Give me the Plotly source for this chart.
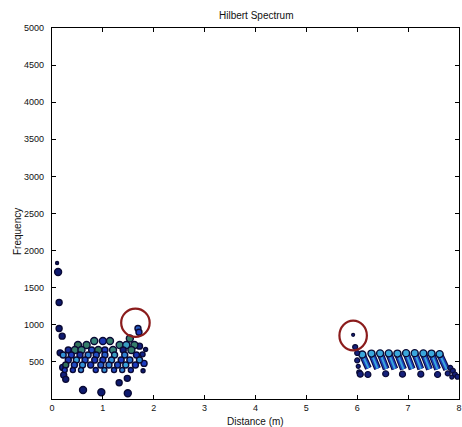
import plotly.graph_objects as go

# ---------------- data ----------------
# Cluster near 0-2 m : distance, frequency, relative amplitude
c1_x = [0.10, 0.12, 0.14, 0.14, 0.20, 0.16, 0.21, 0.23, 0.27, 0.61, 0.97, 1.49, 1.32, 1.48,
        1.69, 1.71, 1.53, 1.72, 1.84, 1.78, 1.81, 1.79,
        0.83, 1.00, 1.14,
        0.51, 0.68, 1.33, 1.46, 1.62,
        0.32, 0.45, 0.58, 0.78, 0.91, 1.04, 1.20, 1.40, 1.56,
        0.22, 0.38, 0.55, 0.71, 0.87, 1.04, 1.23, 1.43, 1.66,
        0.32, 0.48, 0.65, 0.84, 1.00, 1.17, 1.36, 1.53, 1.72,
        0.27, 0.44, 0.60, 0.76, 0.96, 1.12, 1.29, 1.45, 1.64,
        0.25, 0.41, 0.57, 0.86, 1.03, 1.22, 1.38, 1.55]
c1_y = [1832, 1711, 1300, 950, 847, 622, 426, 322, 265, 121, 90, 77, 219, 278,
        950, 900, 816, 712, 668, 602, 480, 380,
        782, 782, 782,
        728, 728, 728, 728, 728,
        660, 660, 660, 660, 660, 660, 660, 660, 660,
        593, 593, 593, 593, 593, 593, 593, 593, 593,
        526, 526, 526, 526, 526, 526, 526, 526, 526,
        458, 458, 458, 458, 458, 458, 458, 458, 458,
        391, 391, 391, 391, 391, 391, 391, 391]
c1_a = [0.05, 0.05, 0.05, 0.05, 0.05, 0.05, 0.15, 0.10, 0.05, 0.05, 0.05, 0.05, 0.05, 0.05,
        0.45, 0.35, 0.90, 0.10, 0.05, 0.15, 0.35, 0.05,
        0.85, 0.30, 0.90,
        0.95, 0.90, 0.85, 0.70, 0.90,
        0.20, 0.90, 0.85, 0.40, 0.95, 0.35, 0.85, 0.10, 0.90,
        0.60, 0.35, 0.25, 0.55, 0.40, 0.45, 0.70, 0.55, 0.30,
        0.30, 0.65, 0.40, 0.30, 0.35, 0.60, 0.35, 0.50, 0.60,
        0.95, 0.40, 0.60, 0.35, 0.45, 0.55, 0.40, 0.65, 0.35,
        0.35, 0.30, 0.55, 0.35, 0.60, 0.40, 0.55, 0.30]
c1_s = [3, 7, 6, 6, 6, 6, 6, 6, 6, 7, 7, 7, 6, 6,
        6, 6, 7, 6, 4, 5, 6, 4,
        7, 7, 7,
        7, 7, 7, 7, 7,
        6, 7, 7, 6, 7, 6, 7, 6, 7,
        6, 6, 6, 6, 6, 6, 6, 6, 6,
        6, 6, 6, 6, 6, 6, 6, 6, 6,
        6, 6, 6, 6, 6, 6, 6, 6, 6,
        5, 5, 5, 5, 5, 5, 5, 5]

# Cluster near 6-8 m : slanted ridges (top and bottom end of each ridge)
ridge_top_x = [6.10, 6.28, 6.45, 6.62, 6.79, 6.96, 7.13, 7.30, 7.46, 7.62]
ridge_top_y = [600, 612, 615, 615, 612, 618, 618, 615, 612, 605]
ridge_bot_x = [6.22, 6.40, 6.57, 6.74, 6.91, 7.08, 7.25, 7.42, 7.58, 7.76]
ridge_bot_y = [415, 410, 405, 405, 402, 405, 405, 402, 400, 398]

# Scattered points around the 6-8 m cluster
c2_x = [5.92, 5.96, 6.00, 6.00, 6.02, 6.04, 6.06, 6.21, 6.56, 6.89, 7.25, 7.58, 7.78, 7.83, 7.88, 7.92, 7.97, 7.86]
c2_y = [865, 700, 620, 520, 440, 360, 335, 330, 340, 335, 335, 330, 345, 420, 380, 330, 300, 296]
c2_s = [3, 5, 5, 5, 4, 5, 6, 6, 6, 6, 6, 6, 5, 5, 5, 5, 5, 4]

# Highlighted regions (centre x, centre y, half width, half height)
circ_cx = [1.64, 5.92]
circ_cy = [1028, 856]
circ_rx = [0.28, 0.27]
circ_ry = [190, 200]

y_ticks = [500, 1000, 1500, 2000, 2500, 3000, 3500, 4000, 4500, 5000]
x_ticks = [0, 1, 2, 3, 4, 5, 6, 7, 8]

# ---------------- figure ----------------
cscale = [[0.0, "#0c1462"], [0.35, "#1d3cc0"], [0.65, "#36a2dc"], [0.8, "#3a8f8a"], [1.0, "#2f6a4a"]]
OUT = "#0a0a35"
FONT = "Liberation Sans"

fig = go.Figure()

fig.add_trace(go.Scatter(
    x=c1_x, y=c1_y, mode="markers",
    marker=dict(size=c1_s, color=c1_a, colorscale=cscale, cmin=0, cmax=1, opacity=1,
                line=dict(color=OUT, width=1.4)),
    hoverinfo="skip", showlegend=False))

# ridges: segments built from the arrays
rx, ry = [], []
for xt, yt, xb, yb in zip(ridge_top_x, ridge_top_y, ridge_bot_x, ridge_bot_y):
    rx += [xt, xb, None]
    ry += [yt, yb, None]
for w, c in [(7, OUT), (5, "#1b3db8"), (2, "#3aa7dc")]:
    fig.add_trace(go.Scatter(x=rx, y=ry, mode="lines", line=dict(color=c, width=w),
                             connectgaps=False, hoverinfo="skip", showlegend=False))
fig.add_trace(go.Scatter(
    x=ridge_top_x, y=ridge_top_y, mode="markers",
    marker=dict(size=7, color="#3aa7dc", opacity=1, line=dict(color=OUT, width=1.4)),
    hoverinfo="skip", showlegend=False))
fig.add_trace(go.Scatter(
    x=c2_x, y=c2_y, mode="markers",
    marker=dict(size=c2_s, color="#15207a", opacity=1, line=dict(color=OUT, width=1.2)),
    hoverinfo="skip", showlegend=False))

for cx, cy, rxx, ryy in zip(circ_cx, circ_cy, circ_rx, circ_ry):
    fig.add_shape(type="circle", xref="x", yref="y",
                  x0=cx - rxx, x1=cx + rxx, y0=cy - ryy, y1=cy + ryy,
                  line=dict(color="#8b1c1c", width=2.2))

axis_common = dict(showgrid=False, zeroline=False, showline=True, linecolor="black",
                   linewidth=1.2, mirror="ticks", ticks="inside", ticklen=4,
                   tickcolor="black", tickfont=dict(family=FONT, size=9, color="#111"))
fig.update_xaxes(range=[0, 8.001], tickvals=x_ticks, ticklabeloverflow="allow", **axis_common)
fig.update_yaxes(range=[0, 5000], tickvals=y_ticks, ticklabelstandoff=5, **axis_common)

fig.add_annotation(text="Hilbert Spectrum", xref="paper", yref="paper", x=0.5, y=1.0,
                   yshift=5, xanchor="center", yanchor="bottom", showarrow=False,
                   font=dict(family=FONT, size=10, color="#111"))
fig.add_annotation(text="Distance (m)", xref="paper", yref="paper", x=0.5, y=0.0,
                   yshift=-15, xanchor="center", yanchor="top", showarrow=False,
                   font=dict(family=FONT, size=10, color="#111"))
fig.add_annotation(text="Frequency", xref="paper", yref="paper", x=0.0, y=0.45,
                   xshift=-35, xanchor="center", yanchor="middle", textangle=-90,
                   showarrow=False, font=dict(family=FONT, size=10, color="#111"))

fig.update_layout(width=462, height=427, margin=dict(l=52, r=1, t=28, b=28),
                  paper_bgcolor="white", plot_bgcolor="white")

fig.write_html("out.html")
